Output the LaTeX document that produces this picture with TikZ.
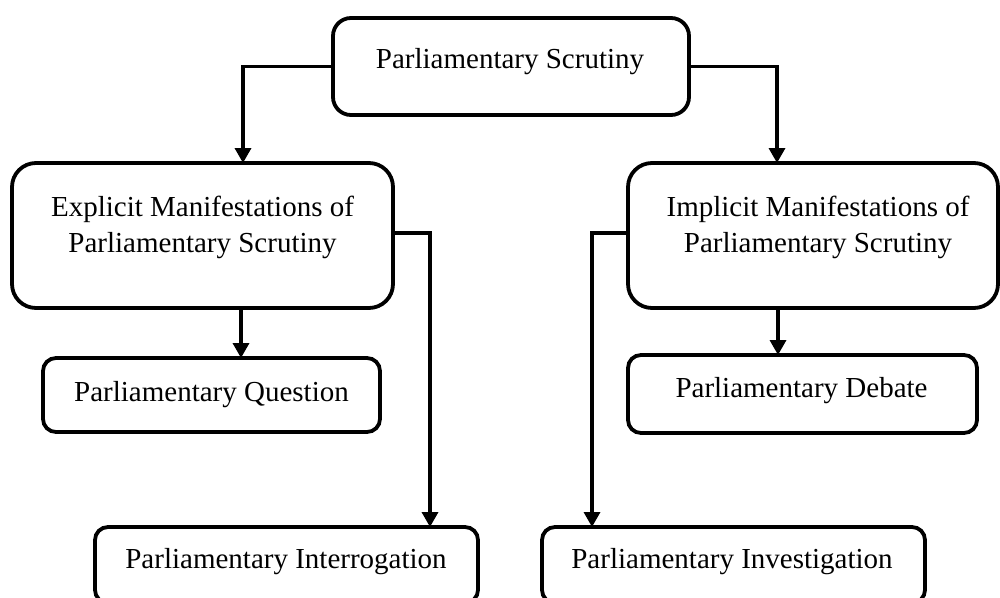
\documentclass[tikz,border=0pt]{standalone}
\usepackage{fontspec}
\setmainfont{Liberation Serif}
\usetikzlibrary{arrows.meta}

\begin{document}
\begin{tikzpicture}[x=1pt,y=-1pt,
  box/.style={draw=black, line width=3.8pt, rectangle, rounded corners=#1,
    inner sep=0pt, outer sep=0pt, anchor=north west},
  box/.default=20pt,
  label/.style={anchor=base, inner sep=0pt, font=\fontsize{29}{36}\selectfont},
  conn/.style={draw=black, line width=3.4pt,
    -{Triangle[length=15pt,width=16pt]}},
  link/.style={draw=black, line width=3.4pt}]

  \useasboundingbox (0,0) rectangle (1000,597);

  % boxes
  \node[box=18pt, minimum width=356pt, minimum height=97pt]  (top) at (333,18)  {};
  \node[box=24pt, minimum width=381pt, minimum height=145pt] (lm)  at (12,163)  {};
  \node[box=24pt, minimum width=370pt, minimum height=145pt] (rm)  at (628,163) {};
  \node[box=13pt, minimum width=337pt, minimum height=74pt]  (pq)  at (43,358)  {};
  \node[box=13pt, minimum width=349pt, minimum height=78pt]  (db)  at (628,355) {};
  \node[box=13pt, minimum width=383pt, minimum height=76pt]  (ig)  at (95,527)  {};
  \node[box=13pt, minimum width=383pt, minimum height=76pt]  (iv)  at (542,527) {};

  % texts
  \node[label] (ttop)  at (510,68)  {Parliamentary Scrutiny};
  \node[label] (tlm1)  at (202.5,216) {Explicit Manifestations of};
  \node[label] (tlm2)  at (202.5,252) {Parliamentary Scrutiny};
  \node[label] (trm1)  at (818,216) {Implicit Manifestations of};
  \node[label] (trm2)  at (818,252) {Parliamentary Scrutiny};
  \node[label] (tpq)   at (211.5,401) {Parliamentary Question};
  \node[label] (tdb)   at (801.5,397) {Parliamentary Debate};
  \node[label] (tig)   at (286,568) {Parliamentary Interrogation};
  \node[label] (tiv)   at (732,568) {Parliamentary Investigation};

  % connectors
  \draw[conn] (top.west) -| ([xshift=40.5pt]lm.north);
  \draw[conn] (top.east) -| ([xshift=-36pt]rm.north);
  \draw[conn] ([xshift=38.5pt]lm.south) -- ([xshift=38.5pt]lm.south |- pq.north);
  \draw[conn] ([yshift=2.5pt]lm.east) -| ([xshift=143.5pt]ig.north);
  \draw[conn] ([xshift=-35pt]rm.south) -- ([xshift=-35pt]rm.south |- db.north);
  \draw[conn] ([yshift=2.5pt]rm.west) -| ([xshift=-141.5pt]iv.north);
\end{tikzpicture}
\end{document}
